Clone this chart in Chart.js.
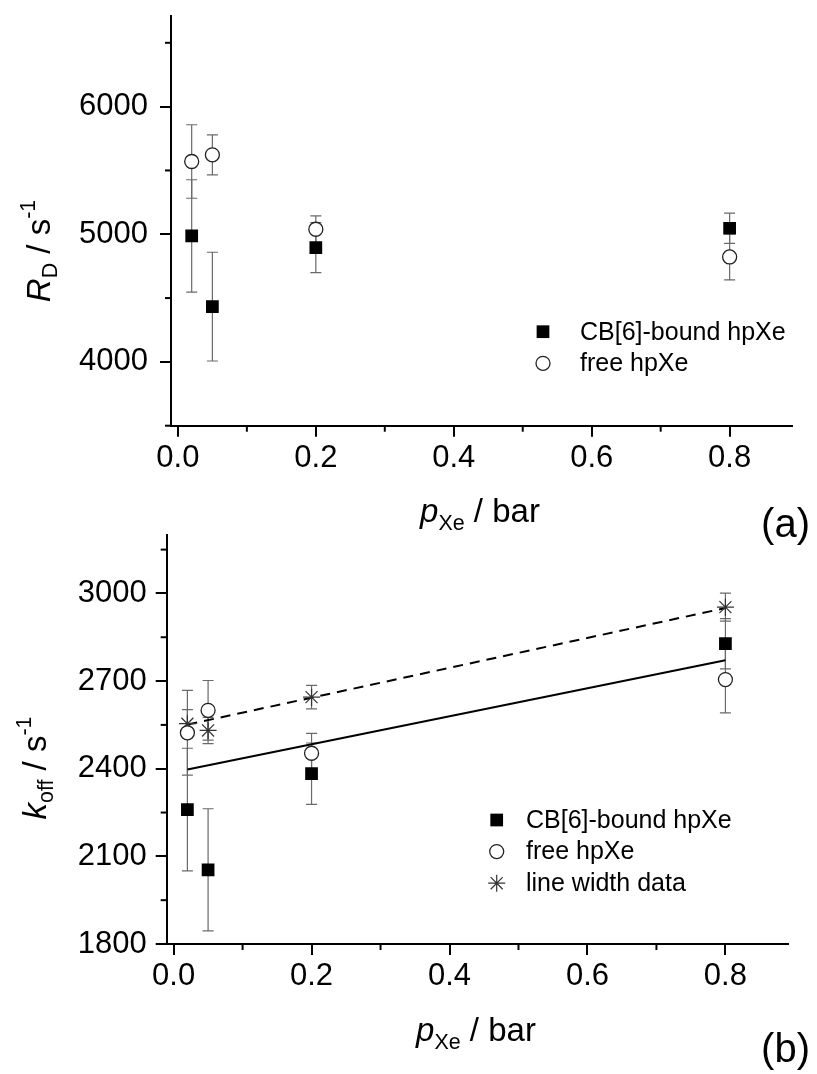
<!DOCTYPE html>
<html><head><meta charset="utf-8">
<script src="https://cdn.jsdelivr.net/npm/chart.js@4.4.1/dist/chart.umd.min.js"></script>
<style>
html,body{margin:0;padding:0;background:#fff;}
#wrap{position:relative;width:817px;height:1074px;overflow:hidden;background:#fff;}
.cv{position:absolute;left:0;width:817px;}
</style></head><body>
<div id="wrap">
<div class="cv" style="top:0;height:550px"><canvas id="ca"></canvas></div>
<div class="cv" style="top:519px;height:555px"><canvas id="cb"></canvas></div>
</div>
<script>
// ---- data ----
const pressure = [0.02, 0.05, 0.2, 0.8];
const rdBound = [4987, 4433, 4896, 5047];
const rdBoundErr = [440, 426, 196, 118];
const rdFree = [5570, 5622, 5039, 4822];
const rdFreeErr = [288, 157, 105, 180];
const koffBound = [2260, 2054, 2383, 2828];
const koffBoundErr = [210, 209, 105, 86];
const koffFree = [2523, 2600, 2453, 2705];
const koffFreeErr = [145, 102, 68, 114];
const koffLineWidth = [2554, 2531, 2645, 2953];
const koffLineWidthErr = [48, 45, 40, 48];
const fitX = [0.02, 0.8];
const fitSolid = [2397, 2771];
const fitDashed = [2551, 2950];
const xTicks = [0.0, 0.2, 0.4, 0.6, 0.8];
const xMinorTicks = [0.1, 0.3, 0.5, 0.7];
const rdTicks = [4000, 5000, 6000];
const rdMinorTicks = [4500, 5500, 6500];
const koffTicks = [1800, 2100, 2400, 2700, 3000];
const koffMinorTicks = [1950, 2250, 2550, 2850, 3150];
const seriesLabels = ['CB[6]-bound hpXe', 'free hpXe', 'line width data'];

const FAMILY = '"Liberation Sans", Arial, sans-serif';
const pts = (xs, ys) => xs.map((x, i) => ({x, y: ys[i]}));

function drawRich(ctx, segs, size, x, y, align) {
  let total = 0;
  const parts = segs.map(s => {
    const fs = size * (s.scale || 1);
    const font = (s.italic ? 'italic ' : '') + fs + 'px ' + FAMILY;
    ctx.font = font;
    const w = ctx.measureText(s.t).width;
    total += w;
    return {font, w, t: s.t, dy: (s.dy || 0) * size};
  });
  let cx = align === 'center' ? x - total / 2 : align === 'right' ? x - total : x;
  ctx.textBaseline = 'alphabetic';
  ctx.textAlign = 'left';
  parts.forEach(p => { ctx.font = p.font; ctx.fillText(p.t, cx, y + p.dy); cx += p.w; });
}

const errorBarPlugin = {
  id: 'errorBars',
  beforeDatasetsDraw(chart) {
    const ctx = chart.ctx, xs = chart.scales.x, ys = chart.scales.y;
    ctx.save();
    ctx.strokeStyle = '#6a6a6a';
    ctx.lineWidth = 1.2;
    chart.data.datasets.forEach(ds => {
      if (!ds.errors) return;
      ds.data.forEach((p, i) => {
        const e = ds.errors[i];
        const px = xs.getPixelForValue(p.x);
        const y1 = ys.getPixelForValue(p.y + e), y2 = ys.getPixelForValue(p.y - e);
        ctx.beginPath();
        ctx.moveTo(px, y1); ctx.lineTo(px, y2);
        ctx.moveTo(px - 5.5, y1); ctx.lineTo(px + 5.5, y1);
        ctx.moveTo(px - 5.5, y2); ctx.lineTo(px + 5.5, y2);
        ctx.stroke();
      });
    });
    ctx.restore();
  }
};

const decorPlugin = {
  id: 'decor',
  afterDraw(chart, args, o) {
    const ctx = chart.ctx, xs = chart.scales.x, ys = chart.scales.y, ca = chart.chartArea;
    ctx.save();
    // minor ticks
    ctx.strokeStyle = '#000'; ctx.lineWidth = 2;
    o.xMinor.forEach(v => { const px = xs.getPixelForValue(v); ctx.beginPath(); ctx.moveTo(px, ca.bottom); ctx.lineTo(px, ca.bottom + 6); ctx.stroke(); });
    o.yMinor.forEach(v => { const py = ys.getPixelForValue(v); ctx.beginPath(); ctx.moveTo(ca.left, py); ctx.lineTo(ca.left - 6, py); ctx.stroke(); });
    // axis extension at the corner
    ctx.beginPath(); ctx.moveTo(ca.left - 6, ca.bottom); ctx.lineTo(ca.left, ca.bottom); ctx.stroke();
    // titles
    ctx.fillStyle = '#000';
    ctx.save();
    ctx.translate(o.yTitle.x, o.yTitle.y);
    ctx.rotate(-Math.PI / 2);
    drawRich(ctx, o.yTitle.segs, o.yTitle.size, 0, 0, 'center');
    ctx.restore();
    drawRich(ctx, o.xTitle.segs, o.xTitle.size, o.xTitle.x, o.xTitle.y, 'center');
    drawRich(ctx, [{t: o.panel.text}], o.panel.size, o.panel.x, o.panel.y, 'right');
    // legend
    let row = 0;
    chart.data.datasets.forEach(ds => {
      if (!ds.inLegend) return;
      const y = o.legend.y + row * o.legend.dy;
      ctx.fillStyle = ds.backgroundColor; ctx.strokeStyle = ds.borderColor;
      ctx.lineWidth = ds.borderWidth;
      Chart.helpers.drawPoint(ctx, {pointStyle: ds.pointStyle, radius: ds.pointRadius, rotation: 0, borderWidth: ds.borderWidth}, o.legend.x, y);
      ctx.fillStyle = '#000';
      ctx.font = o.legend.size + 'px ' + FAMILY;
      ctx.textAlign = 'left'; ctx.textBaseline = 'middle';
      ctx.fillText(ds.label, o.legend.textX, y + 1);
      row++;
    });
    ctx.restore();
  }
};

function squareDs(label, data, err) {
  return {label, data, errors: err, inLegend: true, pointStyle: 'rect', pointRadius: 9, pointHoverRadius: 9,
    backgroundColor: '#000', borderColor: '#000', borderWidth: 0, showLine: false};
}
function circleDs(label, data, err) {
  return {label, data, errors: err, inLegend: true, pointStyle: 'circle', pointRadius: 7, pointHoverRadius: 7,
    backgroundColor: '#fff', borderColor: '#222', borderWidth: 1.3, showLine: false};
}
function starDs(label, data, err) {
  return {label, data, errors: err, inLegend: true, pointStyle: 'star', pointRadius: 8.5, pointHoverRadius: 8.5,
    backgroundColor: '#333', borderColor: '#333', borderWidth: 1.2, showLine: false};
}

function makeOptions(cfg) {
  return {
    responsive: true, maintainAspectRatio: false, animation: false,
    layout: {padding: {left: 0, right: cfg.padRight, top: 16, bottom: 0}},
    plugins: {legend: {display: false}, tooltip: {enabled: false},
      decor: cfg.decor},
    scales: {
      x: {type: 'linear', min: -0.01, max: 0.89,
        afterBuildTicks: s => { s.ticks = xTicks.map(v => ({value: v})); },
        afterFit: s => { s.height = cfg.xHeight; s.paddingLeft = 0; s.paddingRight = 0; },
        ticks: {callback: v => v.toFixed(1), color: '#000', padding: 6, maxRotation: 0, autoSkip: false,
          font: {family: FAMILY, size: 31, lineHeight: 1}},
        grid: {display: true, drawOnChartArea: false, drawTicks: true, tickLength: 11, color: '#000', lineWidth: 2},
        border: {display: true, color: '#000', width: 2}},
      y: {type: 'linear', min: cfg.yMin, max: cfg.yMax,
        afterBuildTicks: s => { s.ticks = cfg.yTicks.map(v => ({value: v})); },
        afterFit: s => { s.width = cfg.yWidth; s.paddingTop = 0; s.paddingBottom = 0; },
        ticks: {callback: v => String(v), color: '#000', padding: cfg.yPad, autoSkip: false,
          font: {family: FAMILY, size: 31, lineHeight: 1}},
        grid: {display: true, drawOnChartArea: false, drawTicks: true, tickLength: 11, color: '#000', lineWidth: 2},
        border: {display: true, color: '#000', width: 2}}
    }
  };
}

new Chart(document.getElementById('ca'), {
  type: 'scatter',
  data: {datasets: [
    squareDs(seriesLabels[0], pts(pressure, rdBound), rdBoundErr),
    circleDs(seriesLabels[1], pts(pressure, rdFree), rdFreeErr)
  ]},
  options: makeOptions({
    padRight: 25.3, xHeight: 550 - 425.7, yWidth: 171, yPad: 12, yMin: 3500, yMax: 6710, yTicks: rdTicks,
    decor: {
      xMinor: xMinorTicks, yMinor: rdMinorTicks,
      yTitle: {x: 50, y: 251, size: 33, segs: [{t: 'R', italic: true}, {t: 'D', scale: 0.65, dy: 0.22}, {t: ' / s'}, {t: '-1', scale: 0.65, dy: -0.45}]},
      xTitle: {x: 480, y: 522, size: 33, segs: [{t: 'p', italic: true}, {t: 'Xe', scale: 0.65, dy: 0.25}, {t: ' / bar'}]},
      panel: {text: '(a)', x: 810, y: 537, size: 40},
      legend: {x: 543, y: 331.7, dy: 31.6, textX: 580, size: 25}
    }
  }),
  plugins: [errorBarPlugin, decorPlugin]
});

new Chart(document.getElementById('cb'), {
  type: 'scatter',
  data: {datasets: [
    squareDs(seriesLabels[0], pts(pressure, koffBound), koffBoundErr),
    circleDs(seriesLabels[1], pts(pressure, koffFree), koffFreeErr),
    starDs(seriesLabels[2], pts(pressure, koffLineWidth), koffLineWidthErr),
    {label: 'fit free', data: pts(fitX, fitSolid), showLine: true, pointRadius: 0, borderColor: '#000', borderWidth: 2, inLegend: false},
    {label: 'fit line width', data: pts(fitX, fitDashed), showLine: true, pointRadius: 0, borderColor: '#000', borderWidth: 2, borderDash: [10, 7], inLegend: false}
  ]},
  options: makeOptions({
    padRight: 29.5, xHeight: 555 - 425, yWidth: 166.7, yPad: 9, yMin: 1800, yMax: 3200, yTicks: koffTicks,
    decor: {
      xMinor: xMinorTicks, yMinor: koffMinorTicks,
      yTitle: {x: 46, y: 249, size: 33, segs: [{t: 'k', italic: true}, {t: 'off', scale: 0.65, dy: 0.22}, {t: ' / s'}, {t: '-1', scale: 0.65, dy: -0.45}]},
      xTitle: {x: 476, y: 522, size: 33, segs: [{t: 'p', italic: true}, {t: 'Xe', scale: 0.65, dy: 0.25}, {t: ' / bar'}]},
      panel: {text: '(b)', x: 810, y: 543, size: 40},
      legend: {x: 496.7, y: 301, dy: 31.6, textX: 526, size: 25}
    }
  }),
  plugins: [errorBarPlugin, decorPlugin]
});
</script>
</body></html>
